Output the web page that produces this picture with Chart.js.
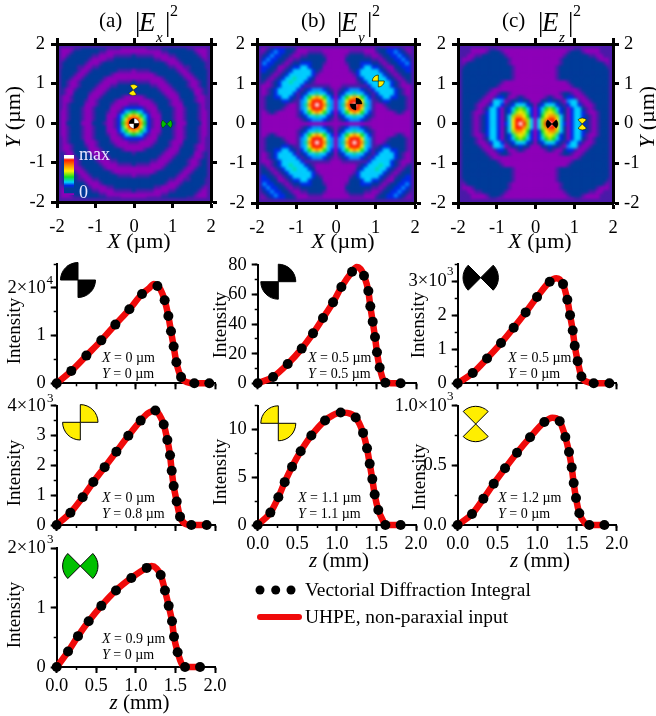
<!DOCTYPE html>
<html>
<head>
<meta charset="utf-8">
<script src="https://cdn.jsdelivr.net/npm/chart.js@4"></script>
<style>
body { margin: 0; background: #fff; }
#page { position: relative; width: 656px; height: 716px; overflow: hidden; font-family: "Liberation Serif", "Times New Roman", serif; color: #000; }
#page canvas, #page svg { position: absolute; left: 0; top: 0; }
.heat { position: absolute; overflow: hidden; background: #4a1aa8; }
.heat canvas { filter: blur(1.4px); }
.t { position: absolute; white-space: nowrap; line-height: 1; }
</style>
</head>
<body>
<div id="page"></div>
<script>
// intensity maps: one quadrant, 0.1 um step, row = |Y|, column = |X|, digit = colour level
const mapEx = [
  'cba731001222000222200',
  'bb9631002221001222100',
  'a97530002221001222100',
  '765310012221001222100',
  '333100022221001222101',
  '110000122210002222101',
  '000001222210012221001',
  '000122222100022221001',
  '122222221000122220012',
  '222222210001222210012',
  '222221100012222100122',
  '211110000122222100122',
  '000000001222221001222',
  '000000122222210012222',
  '011112222222100122222',
  '222222222211001122221',
  '222222222100012222221',
  '222222110000122222210',
  '211111000011222222100',
  '000000001122222221000',
  '000011112222222110000'
];
const mapEy = [
  '000000000000000000000',
  '012344432100000000000',
  '023556553210000000000',
  '035 79a97531 0000012100'.replace(/ /g, ''),
  '045 9bbb9541 0001222210'.replace(/ /g, ''),
  '046 abcba641 0012222210'.replace(/ /g, ''),
  '045 9bbb9541 1233222210'.replace(/ /g, ''),
  '035 79a97531 2355332210'.replace(/ /g, ''),
  '023556553213555532100',
  '012344432135555532100',
  '001111111355555321000',
  '000000123555655321012',
  '000000235556553210122',
  '000001355555532101222',
  '000012355555321012233',
  '000022235533210022333',
  '000122233322101223343',
  '000222222211012233432',
  '000122221100122334321',
  '000011110001223343210',
  '000000000002223332100'
];
const mapEz = [
  '058bcb953035532101222',
  '058abb952035532101222',
  '0379aa852035532101222',
  '036898632035531001222',
  '035787532035521012222',
  '023555321355310012222',
  '002232210455100122222',
  '000121002331001222222',
  '000000012210012222222',
  '000000000000122222222',
  '000000000012222222222',
  '000000000122222222222',
  '000000122222222222222',
  '000000122222222222222',
  '000000122222222222222',
  '000000122222222222221',
  '000000012222222222210',
  '000000012222222221000',
  '000000001222222110011',
  '000000000122210000111',
  '000000000001100000111'
];

// line plots: z in mm, intensity in units of the axis
const dotsZ1 = [0, .185, .375, .564, .741, .918, 1.078, 1.272, 1.364, 1.411, 1.444, 1.478, 1.512, 1.571, 1.739, 1.928];
const dotsI1 = [0, .26, .58, .90, 1.23, 1.55, 1.87, 2.04, 1.74, 1.41, 1.09, .77, .44, .13, 0, 0];
const peakZ1 = [1.16, 1.23, 1.31, 1.65];
const peakI1 = [1.98, 2.08, 1.97, .02];

const dotsZ2 = [0, .173, .328, .463, .606, .754, .905, 1.061, 1.246, 1.352, 1.398, 1.432, 1.453, 1.478, 1.516, 1.558, 1.701, 1.895];
const dotsI2 = [0, .41, .93, 1.44, 1.94, 2.46, 2.99, 3.50, 3.84, 3.37, 2.85, 2.34, 1.82, 1.31, .79, .28, 0, 0];
const peakZ2 = [1.15, 1.3, 1.63];
const peakI2 = [3.74, 3.68, .03];

const dotsZ3 = [0, .143, .269, .404, .564, .749, .943, 1.137, 1.314, 1.368, 1.415, 1.457, 1.482, 1.528, 1.621, 1.811];
const dotsI3 = [0, .26, .52, .77, 1.03, 1.29, 1.50, 1.67, 1.55, 1.29, 1.03, .77, .51, .25, 0, 0];
const peakZ3 = [1.2, 1.26, 1.58];
const peakI3 = [1.70, 1.66, .05];

const dotsZ4 = [0, .194, .379, .556, .699, .825, .952, 1.057, 1.192, 1.343, 1.398, 1.423, 1.453, 1.482, 1.507, 1.541, 1.613, 1.806];
const dotsI4 = [0, 4.3, 13, 23.4, 33.7, 44, 54.6, 64.9, 75.3, 72.6, 62.2, 51.9, 41.6, 31.2, 20.9, 10.6, .4, 0];
const peakZ4 = [1.25, 1.3];
const peakI4 = [78.5, 77];

const dotsZ5 = [0, .16, .261, .341, .434, .543, .678, .851, 1.048, 1.238, 1.331, 1.381, 1.415, 1.448, 1.478, 1.524, 1.613, 1.806];
const dotsI5 = [0, 1.3, 2.91, 4.49, 6.11, 7.72, 9.37, 10.95, 11.79, 11.26, 9.65, 8.03, 6.42, 4.81, 3.19, 1.58, 0, 0];
const peakZ5 = [.95, 1.13, 1.58];
const peakI5 = [11.5, 11.75, .5];

const dotsZ6 = [0, .189, .369, .545, .704, .855, .998, 1.157, 1.325, 1.379, 1.413, 1.447, 1.472, 1.509, 1.556, 1.711, 1.908];
const dotsI6 = [0, .30, .73, 1.18, 1.63, 2.08, 2.53, 2.98, 2.91, 2.45, 2.0, 1.55, 1.10, .65, .2, 0, 0];
const peakZ6 = [1.24, 1.28, 1.63];
const peakI6 = [3.08, 3.05, .04];

const dotsZ7 = [0, .18, .323, .453, .595, .746, .91, 1.09, 1.283, 1.354, 1.4, 1.434, 1.459, 1.488, 1.53, 1.656, 1.845];
const dotsI7 = [0, .092, .22, .346, .475, .606, .735, .863, .869, .737, .612, .483, .352, .226, .098, 0, 0];
const peakZ7 = [1.19, 1.24, 1.6];
const peakI7 = [.90, .895, .015];

const zLabels = ['0.0', '0.5', '1.0', '1.5', '2.0'];
const mapLabels = ['-2', '-1', '0', '1', '2'];

// colour levels used by the maps
const levels = {
  0: '#8e00b8', 1: '#4a1aa8', 2: '#003b99', 3: '#0028e8', 4: '#0090ff', 5: '#00d0ff', 6: '#00e0a0',
  7: '#10e020', 8: '#a8e800', 9: '#ffee00', a: '#ff9000', b: '#ff1800', c: '#ffffff'
};

const W = 656, H = 716;
const ROOM_Y = 56, ROOM_X = 36; // room kept for tick labels beside and below an axis
const page = document.getElementById('page');
const tickFont = { family: '"Liberation Serif", "Times New Roman", serif', size: 18.5 };

function newCanvas(parent, w, h) {
  const c = document.createElement('canvas');
  c.width = w;
  c.height = h;
  parent.appendChild(c);
  return c;
}

function fitTo(axis, room) {
  return axis === 'x' ? s => { s.height = room; } : s => { s.width = room; };
}

// major axis with labels
function mainAxis(axis, position, min, max, step, labels, width, len, pad, room) {
  return {
    type: 'linear', axis, position, min, max, weight: 1, afterFit: fitTo(axis, room),
    border: { display: true, color: '#000', width },
    grid: { drawOnChartArea: false, drawTicks: true, tickLength: len, tickWidth: width, tickColor: '#000' },
    ticks: {
      display: !!labels, stepSize: step, includeBounds: false, autoSkip: false, maxRotation: 0,
      font: tickFont, color: '#000', padding: pad,
      callback: (v, i) => labels ? labels[i] : ''
    }
  };
}

// short ticks between the labelled ones
function minorAxis(axis, position, min, max, step) {
  return {
    type: 'linear', axis, position, min, max, weight: 0, afterFit: fitTo(axis, 0),
    border: { display: false },
    grid: { drawOnChartArea: false, drawTicks: true, tickLength: 3, tickWidth: 1.5, tickColor: '#000' },
    ticks: { display: false, stepSize: step, includeBounds: false, autoSkip: false }
  };
}

function mapPanel(rows, L, T, R, B, rightLabels) {
  // the map itself, blurred a little on its own canvas
  const box = document.createElement('div');
  box.className = 'heat';
  box.style.cssText = `left:${L}px;top:${T}px;width:${R - L}px;height:${B - T}px`;
  page.appendChild(box);
  const pts = [], colors = [];
  for (let gy = -20; gy <= 20; gy++) {
    for (let gx = -20; gx <= 20; gx++) {
      pts.push({ x: gx / 10, y: gy / 10 });
      colors.push(levels[rows[Math.abs(gy)][Math.abs(gx)]]);
    }
  }
  new Chart(newCanvas(box, R - L, B - T), {
    type: 'scatter',
    data: { datasets: [{ data: pts, pointStyle: 'rect', pointRadius: 3, pointBorderWidth: 0, pointBackgroundColor: colors }] },
    options: {
      responsive: false, animation: false, events: [],
      plugins: { legend: { display: false }, tooltip: { enabled: false } },
      layout: { padding: 0 },
      scales: {
        x: { type: 'linear', min: -2, max: 2, display: false },
        y: { type: 'linear', min: -2, max: 2, display: false }
      }
    }
  });
  // frame and ticks on top
  const right = rightLabels ? 40 : 0;
  new Chart(newCanvas(page, W, H), {
    type: 'scatter',
    data: { datasets: [{ data: [], xAxisID: 'x', yAxisID: 'y' }] },
    options: {
      responsive: false, animation: false, events: [],
      plugins: { legend: { display: false }, tooltip: { enabled: false } },
      layout: { padding: { left: L - ROOM_Y, top: T, right: W - R - right, bottom: H - B - ROOM_X } },
      scales: {
        x: mainAxis('x', 'bottom', -2, 2, 1, mapLabels, 3, 6, 8, ROOM_X),
        xt: mainAxis('x', 'top', -2, 2, 1, null, 3, 6, 0, 0),
        y: mainAxis('y', 'left', -2, 2, 1, mapLabels, 3, 6, 6, ROOM_Y),
        yr: mainAxis('y', 'right', -2, 2, 1, rightLabels ? mapLabels : null, 3, 6, 5, right)
      }
    }
  });
}

function linePanel(o) {
  const dots = o.z.map((x, i) => ({ x, y: o.v[i] }));
  const curve = dots.concat(o.pz.map((x, i) => ({ x, y: o.pv[i] }))).sort((a, b) => a.x - b.x);
  const room = o.room || ROOM_Y;
  new Chart(newCanvas(page, W, H), {
    type: 'scatter',
    data: {
      datasets: [
        { data: dots, xAxisID: 'x', yAxisID: 'y', showLine: false, pointRadius: 5, pointBorderWidth: 0, pointBackgroundColor: '#000', clip: false },
        { data: curve, xAxisID: 'x', yAxisID: 'y', showLine: true, pointRadius: 0, borderColor: '#f00a0a', borderWidth: 6.5, borderCapStyle: 'round', cubicInterpolationMode: 'monotone', clip: false }
      ]
    },
    options: {
      responsive: false, animation: false, events: [],
      plugins: { legend: { display: false }, tooltip: { enabled: false } },
      layout: { padding: { left: o.L - room, top: o.T, right: W - o.R, bottom: H - o.B - ROOM_X } },
      scales: {
        x: mainAxis('x', 'bottom', 0, 2, .5, o.showZ ? zLabels : null, 2, 6, 2, ROOM_X),
        xm: minorAxis('x', 'bottom', 0, 2, .25),
        y: mainAxis('y', 'left', 0, o.max, o.step, o.labels, 2, 6, 5, room),
        ym: minorAxis('y', 'left', 0, o.max, o.minor)
      }
    }
  });
}

mapPanel(mapEx, 57, 44, 211, 202, false);
mapPanel(mapEy, 257, 44, 415, 203, false);
mapPanel(mapEz, 458, 44, 613, 203, true);

linePanel({ z: dotsZ1, v: dotsI1, pz: peakZ1, pv: peakI1, L: 56.7, R: 215, T: 264, B: 383.3, max: 2.5, step: 1, minor: .5, labels: ['0', '1', '2×10'] });
linePanel({ z: dotsZ2, v: dotsI2, pz: peakZ2, pv: peakI2, L: 56.7, R: 215, T: 405.7, B: 525, max: 4, step: 1, minor: .5, labels: ['0', '1', '2', '3', '4×10'] });
linePanel({ z: dotsZ3, v: dotsI3, pz: peakZ3, pv: peakI3, L: 56.7, R: 215, T: 548.3, B: 667, max: 2, step: 1, minor: .5, labels: ['0', '1', '2×10'], showZ: true });
linePanel({ z: dotsZ4, v: dotsI4, pz: peakZ4, pv: peakI4, L: 257.7, R: 416, T: 264.7, B: 383.3, max: 80, step: 20, minor: 10, labels: ['0', '20', '40', '60', '80'] });
linePanel({ z: dotsZ5, v: dotsI5, pz: peakZ5, pv: peakI5, L: 257.7, R: 416, T: 405.7, B: 525, max: 12.5, step: 5, minor: 2.5, labels: ['0', '5', '10'], showZ: true });
linePanel({ z: dotsZ6, v: dotsI6, pz: peakZ6, pv: peakI6, L: 457.7, R: 616.7, T: 264, B: 383.3, max: 3.5, step: 1, minor: .5, labels: ['0', '1', '2', '3×10'] });
linePanel({ z: dotsZ7, v: dotsI7, pz: peakZ7, pv: peakI7, L: 457.7, R: 616.7, T: 405.7, B: 525, max: 1, step: .5, minor: .25, labels: ['0.0', '0.5', '1.0×10'], showZ: true, room: 70 });

// small sector icons and the legend symbols
function sector(cx, cy, r, a0, a1, fill, sw) {
  const p = a => [cx + r * Math.cos(a * Math.PI / 180), cy - r * Math.sin(a * Math.PI / 180)];
  const [x0, y0] = p(a0), [x1, y1] = p(a1);
  return `<path d="M${cx} ${cy}L${x0} ${y0}A${r} ${r} 0 0 0 ${x1} ${y1}Z" fill="${fill}" stroke="#000" stroke-width="${sw}"/>`;
}
function pair(cx, cy, r, a, span, fill, sw) {
  return sector(cx, cy, r, a, a + span, fill, sw) + sector(cx, cy, r, a + 180, a + 180 + span, fill, sw);
}
let svg = '';
svg += pair(78, 280, 17.5, 90, 90, '#000', 1);
svg += pair(80.3, 422.3, 17.7, 0, 90, '#ffee00', 1);
svg += pair(80.3, 566, 17.7, 135, 90, '#00c000', 1);
svg += pair(278.3, 281.7, 17.5, 0, 90, '#000', 1);
svg += pair(278.3, 423.3, 17.5, 90, 90, '#ffee00', 1);
svg += pair(480.7, 277.7, 17.7, 135, 90, '#000', 1);
svg += pair(475.7, 424, 17.7, 45, 90, '#ffee00', 1);
svg += pair(134, 123.5, 5, 0, 90, '#fff', .3) + pair(134, 123.5, 5, 90, 90, '#000', .3);
svg += pair(133.3, 90, 5.5, 35, 90, '#ffee00', .4);
svg += pair(166.7, 124, 5.5, 135, 90, '#00c000', .4);
svg += pair(356, 104, 6, 0, 90, '#000', .4);
svg += pair(378.3, 81, 6, 90, 90, '#ffee00', .6);
svg += pair(552, 124, 6, 135, 90, '#000', .4);
svg += pair(582.3, 124, 6, 45, 90, '#ffee00', .6);
for (const x of [260, 275.7, 291]) svg += `<circle cx="${x}" cy="590" r="4.5" fill="#000"/>`;
svg += '<line x1="260" y1="617" x2="299" y2="617" stroke="#f00a0a" stroke-width="6" stroke-linecap="round"/>';
page.insertAdjacentHTML('beforeend', `<svg width="${W}" height="${H}" viewBox="0 0 ${W} ${H}">${svg}</svg>`);

function text(html, x, y, size, how, color) {
  const d = document.createElement('div');
  d.className = 't';
  d.innerHTML = html;
  d.style.left = x + 'px';
  d.style.top = y + 'px';
  d.style.fontSize = size + 'px';
  if (color) d.style.color = color;
  d.style.transform = how === 'rot' ? 'translate(-50%,-50%) rotate(-90deg)' : how === 'mid' ? 'translate(-50%,-50%)' : 'translateY(-50%)';
  page.appendChild(d);
}

// panel titles
function title(tag, sub, xTag, xBar) {
  text(`(${tag})`, xTag, 20, 21);
  text('|', xBar, 22, 27);
  text(`<i>E</i>`, xBar + 4, 22, 27);
  text(`<i>${sub}</i>`, xBar + 21, 37, 15);
  text('|', xBar + 30, 22, 27);
  text('2', xBar + 35, 11, 16);
}
title('a', 'x', 99, 135);
title('b', 'y', 301, 337);
title('c', 'z', 502, 538);

for (const x of [139, 343, 540]) text('<i>X</i> (µm)', x, 241, 22, 'mid');
text('<i>Y</i> (µm)', 13, 117, 22, 'rot');
text('<i>Y</i> (µm)', 647, 117, 22, 'rot');

text('<i>z</i> (mm)', 139.5, 702, 21, 'mid');
text('<i>z</i> (mm)', 339, 560, 21, 'mid');
text('<i>z</i> (mm)', 540, 560, 21, 'mid');

for (const [x, y] of [[13, 331], [13, 473], [13, 615], [219, 325], [219, 472], [417, 325], [418, 477]]) text('Intensity', x, y, 19, 'rot');

// exponents beside the top tick labels
for (const [s, x, y] of [['4', 46.5, 279], ['3', 47, 397], ['3', 47, 538], ['3', 447, 270], ['3', 447, 395]]) text(s, x, y, 13);

// position notes
for (const [a, b, x, y] of [
  ['0', '0', 102, 358], ['0', '0.8', 102, 498], ['0.9', '0', 102, 639], ['0.5', '0.5', 308, 358],
  ['1.1', '1.1', 298, 498], ['0.5', '0', 508, 358], ['1.2', '0', 498, 498]
]) {
  text(`<i>X</i> = ${a} µm`, x, y, 14);
  text(`<i>Y</i> = ${b} µm`, x, y + 16, 14);
}

// colour key of panel (a)
const key = document.createElement('div');
key.style.cssText = 'position:absolute;left:64px;top:155px;width:10px;height:40px;background:linear-gradient(to bottom,#fff 0 7%,#ff1800 12%,#ff9000 27%,#ffee00 40%,#10e020 55%,#00d0ff 68%,#0028e8 76%,#003b99 84%,#003b99 94%,#8e00b8 97%)';
page.appendChild(key);
text('max', 79, 154, 18, null, '#e8e4ff');
text('0', 79, 192, 18, null, '#e8e4ff');

// legend
text('Vectorial Diffraction Integral', 305, 590, 19.4);
text('UHPE, non-paraxial input', 305, 617, 19.4);
</script>
</body>
</html>
